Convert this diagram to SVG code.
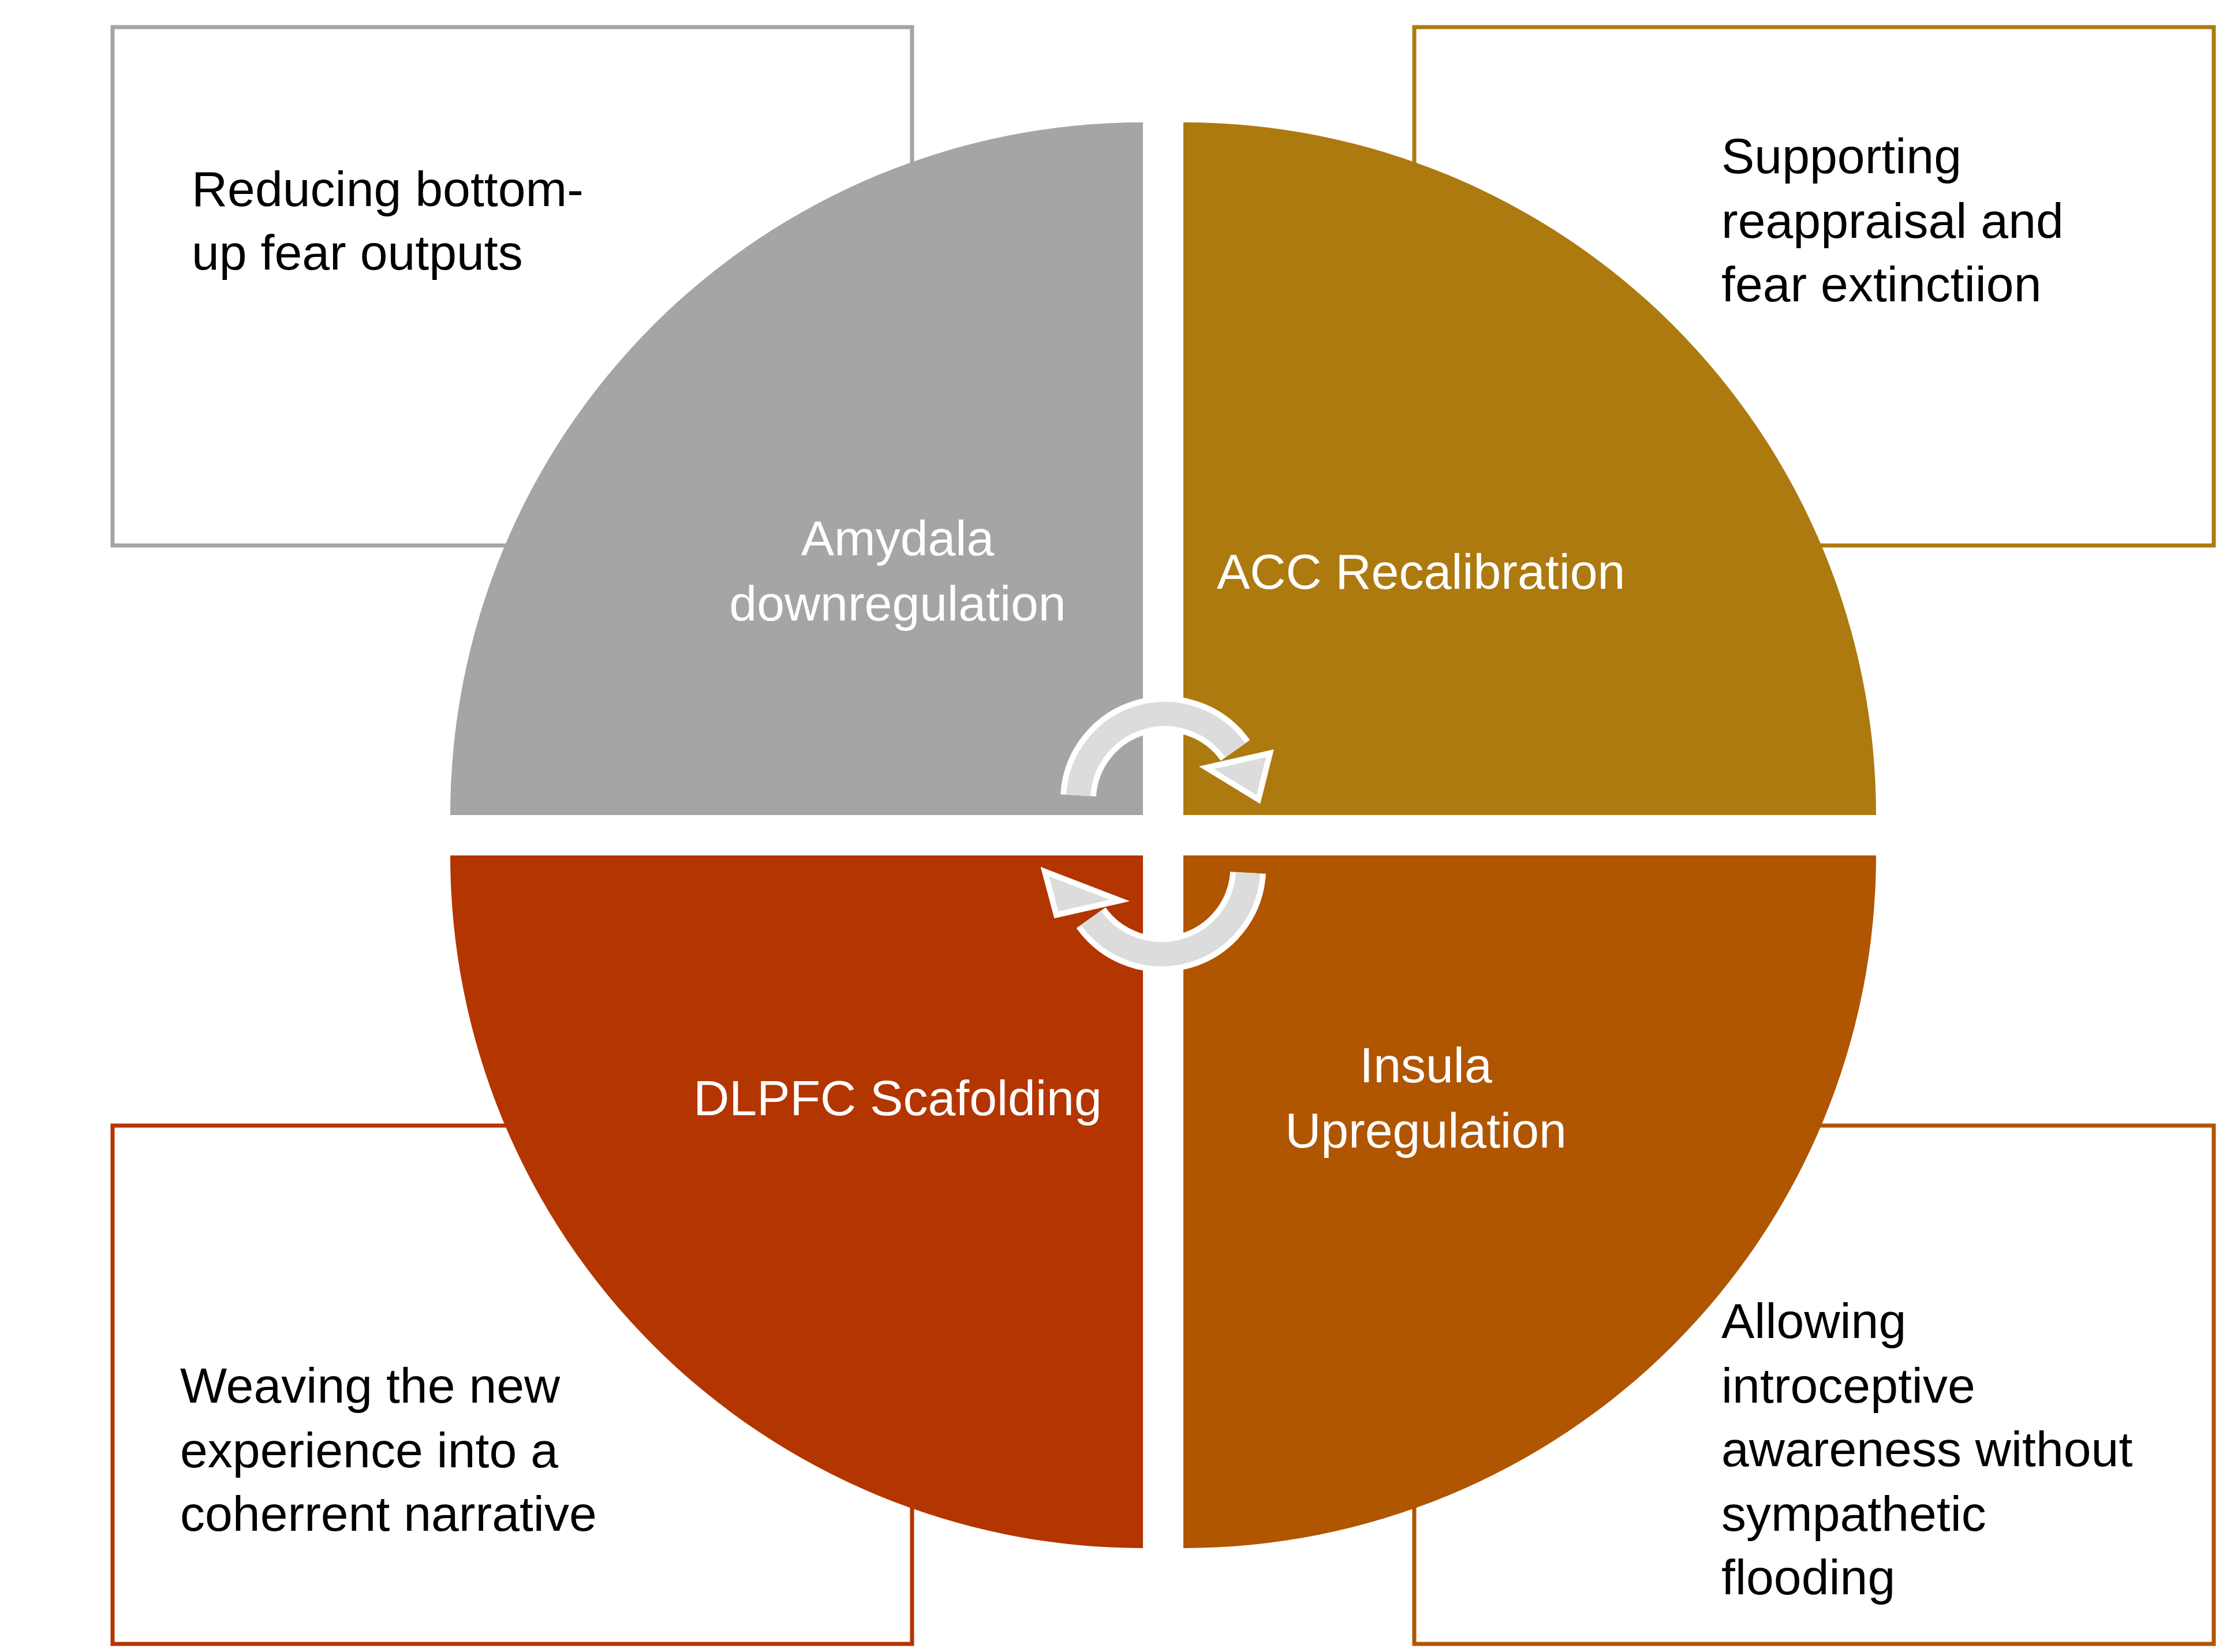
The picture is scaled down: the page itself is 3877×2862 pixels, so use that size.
<svg xmlns="http://www.w3.org/2000/svg" width="3877" height="2862" viewBox="0 0 3877 2862">
<style>
.box{fill:#fff;stroke-width:7}
.t{font-family:"Liberation Sans",Arial,sans-serif;font-size:86px}
.w{fill:#fff}
.k{fill:#000}
</style>
<rect width="3877" height="2862" fill="#fff"/>
<g id="box-amygdala"><rect class="box" x="195" y="47" width="1385" height="898" stroke="#A5A5A5"/>
<text class="t k" x="332"><tspan x="332" y="357">Reducing bottom-</tspan><tspan x="332" y="467">up fear outputs</tspan></text></g>
<g id="box-acc"><rect class="box" x="2450" y="47" width="1385" height="898" stroke="#AD7A10"/>
<text class="t k"><tspan x="2982" y="300">Supporting</tspan><tspan x="2982" y="412">reappraisal and</tspan><tspan x="2982" y="522">fear extinctiion</tspan></text></g>
<g id="box-dlpfc"><rect class="box" x="195" y="1950" width="1385" height="898" stroke="#B33500"/>
<text class="t k"><tspan x="312" y="2430">Weaving the new</tspan><tspan x="312" y="2542">experience into a</tspan><tspan x="312" y="2652">coherrent narrative</tspan></text></g>
<g id="box-insula"><rect class="box" x="2450" y="1950" width="1385" height="898" stroke="#B05500"/>
<text class="t k"><tspan x="2982" y="2318">Allowing</tspan><tspan x="2982" y="2430">introceptive</tspan><tspan x="2982" y="2540">awareness without</tspan><tspan x="2982" y="2652">sympathetic</tspan><tspan x="2982" y="2762">flooding</tspan></text></g>
<g id="amygdala"><path d="M1980 1412 L780 1412 A1200 1200 0 0 1 1980 212 Z" fill="#A5A5A5"/>
<text class="t w" text-anchor="middle"><tspan x="1555" y="962">Amydala</tspan><tspan x="1555" y="1075">downregulation</tspan></text></g>
<g id="acc"><path d="M2050 1412 L2050 212 A1200 1200 0 0 1 3250 1412 Z" fill="#AD7A10"/>
<text class="t w" x="2108" y="1020">ACC Recalibration</text></g>
<g id="dlpfc"><path d="M1980 1482 L1980 2682 A1200 1200 0 0 1 780 1482 Z" fill="#B33500"/>
<text class="t w" x="1555" y="1932" text-anchor="middle">DLPFC Scafolding</text></g>
<g id="insula"><path d="M2050 1482 L3250 1482 A1200 1200 0 0 1 2050 2682 Z" fill="#B05500"/>
<text class="t w" text-anchor="middle"><tspan x="2470" y="1875">Insula</tspan><tspan x="2470" y="1988">Upregulation</tspan></text></g>
<g id="connectors">
<path d="M1868 1378 A150 150 0 0 1 2140 1300" fill="none" stroke="#fff" stroke-width="62"/>
<path d="M1868 1378 A150 150 0 0 1 2140 1300" fill="none" stroke="#DCDCDC" stroke-width="42"/>
<polygon points="2090,1330 2200,1305 2180,1385" fill="#DCDCDC" stroke="#fff" stroke-width="10"/>
<path d="M2162 1512 A150 150 0 0 1 1890 1590" fill="none" stroke="#fff" stroke-width="62"/>
<path d="M2162 1512 A150 150 0 0 1 1890 1590" fill="none" stroke="#DCDCDC" stroke-width="42"/>
<polygon points="1940,1560 1830,1585 1810,1510" fill="#DCDCDC" stroke="#fff" stroke-width="10"/>
</g>
</svg>
